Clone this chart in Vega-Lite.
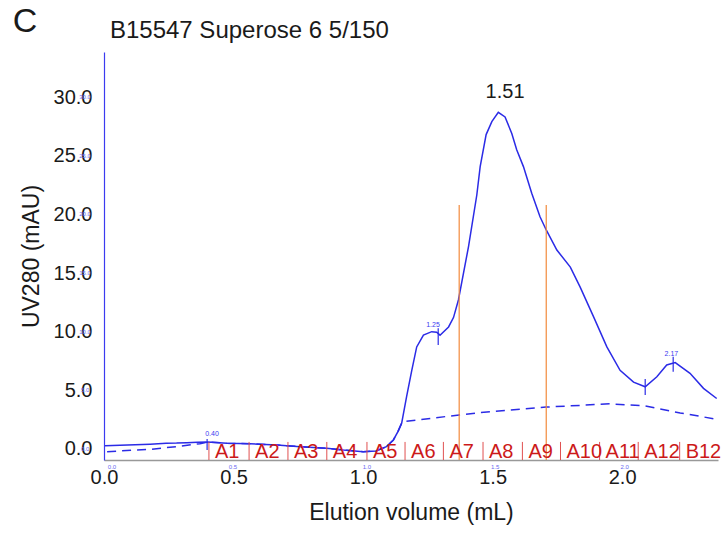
{
  "$schema": "https://vega.github.io/schema/vega-lite/v6.json",
  "width": 614,
  "height": 408,
  "autosize": {"type": "none"},
  "padding": {"left": 104, "top": 52, "right": 5, "bottom": 76},
  "background": "white",
  "config": {"view": {"stroke": null}, "font": "Liberation Sans"},
  "datasets": {
    "uv": [
      {"v": 0.004, "a": 0.28}, {"v": 0.062, "a": 0.31}, {"v": 0.12, "a": 0.35}, {"v": 0.178, "a": 0.4}, {"v": 0.24, "a": 0.48}, {"v": 0.28, "a": 0.5}, {"v": 0.32, "a": 0.54}, {"v": 0.36, "a": 0.57}, {"v": 0.40, "a": 0.6},
      {"v": 0.474, "a": 0.49}, {"v": 0.564, "a": 0.45}, {"v": 0.667, "a": 0.34}, {"v": 0.757, "a": 0.2}, {"v": 0.86, "a": 0.06}, {"v": 0.924, "a": -0.09}, {"v": 1.0, "a": -0.23}, {"v": 1.05, "a": -0.17}, {"v": 1.09, "a": 0.2}, {"v": 1.117, "a": 0.77}, {"v": 1.135, "a": 1.5},
      {"v": 1.149, "a": 2.2}, {"v": 1.168, "a": 4.46}, {"v": 1.188, "a": 6.7}, {"v": 1.207, "a": 8.7}, {"v": 1.233, "a": 9.7}, {"v": 1.265, "a": 10.0}, {"v": 1.284, "a": 9.95}, {"v": 1.297, "a": 9.7}, {"v": 1.33, "a": 10.4}, {"v": 1.349, "a": 11.2}, {"v": 1.368, "a": 12.7},
      {"v": 1.407, "a": 17.25}, {"v": 1.439, "a": 21.65}, {"v": 1.452, "a": 24.07}, {"v": 1.475, "a": 26.8}, {"v": 1.497, "a": 27.9}, {"v": 1.522, "a": 28.7}, {"v": 1.548, "a": 28.3}, {"v": 1.574, "a": 26.9}, {"v": 1.593, "a": 25.5}, {"v": 1.619, "a": 24.07}, {"v": 1.651, "a": 21.8}, {"v": 1.683, "a": 19.8}, {"v": 1.707, "a": 18.67}, {"v": 1.748, "a": 16.96}, {"v": 1.8, "a": 15.5}, {"v": 1.838, "a": 13.8}, {"v": 1.889, "a": 11.3}, {"v": 1.941, "a": 8.7}, {"v": 1.992, "a": 6.7}, {"v": 2.044, "a": 5.7}, {"v": 2.089, "a": 5.3}, {"v": 2.134, "a": 6.15}, {"v": 2.172, "a": 7.16}, {"v": 2.205, "a": 7.36}, {"v": 2.262, "a": 6.45}, {"v": 2.314, "a": 5.17}, {"v": 2.365, "a": 4.3}
    ],
    "base": [
      {"v": 0.012, "a": -0.23}, {"v": 0.062, "a": -0.17}, {"v": 0.178, "a": -0.03}, {"v": 0.28, "a": 0.2}, {"v": 0.37, "a": 0.45}, {"v": 0.40, "a": 0.6},
      {"v": 0.474, "a": 0.49}, {"v": 0.564, "a": 0.45}, {"v": 0.667, "a": 0.34}, {"v": 0.757, "a": 0.2}, {"v": 0.86, "a": 0.06}, {"v": 0.924, "a": -0.09}, {"v": 1.0, "a": -0.23}, {"v": 1.05, "a": -0.17}, {"v": 1.09, "a": 0.2}, {"v": 1.117, "a": 0.77}, {"v": 1.135, "a": 1.5}, {"v": 1.149, "a": 2.2},
      {"v": 1.154, "a": 2.33}, {"v": 1.371, "a": 2.9}, {"v": 1.452, "a": 3.1}, {"v": 1.707, "a": 3.57}, {"v": 1.954, "a": 3.85}, {"v": 2.089, "a": 3.67}, {"v": 2.224, "a": 3.07}, {"v": 2.367, "a": 2.53}
    ],
    "fractions": [
      {"v": 0.405, "f": "A1"}, {"v": 0.56, "f": "A2"}, {"v": 0.71, "f": "A3"}, {"v": 0.86, "f": "A4"}, {"v": 1.015, "f": "A5"}, {"v": 1.162, "f": "A6"}, {"v": 1.31, "f": "A7"}, {"v": 1.463, "f": "A8"}, {"v": 1.615, "f": "A9"}, {"v": 1.762, "f": "A10"}, {"v": 1.913, "f": "A11"}, {"v": 2.062, "f": "A12"}, {"v": 2.222, "f": "B12"}
    ],
    "cuts": [
      {"v": 1.371, "lo": -0.94, "hi": 20.8}, {"v": 1.707, "lo": -0.94, "hi": 20.8}
    ],
    "ticks": [
      {"v": 0.398, "lo": -0.09, "hi": 0.85}, {"v": 1.29, "lo": 8.87, "hi": 10.3}, {"v": 2.089, "lo": 4.6, "hi": 5.97}, {"v": 2.197, "lo": 6.59, "hi": 7.87}
    ],
    "small": [
      {"v": 0.417, "a": 1.0, "t": "0.40"}, {"v": 1.27, "a": 10.3, "t": "1.25"}, {"v": 2.19, "a": 7.8, "t": "2.17"}
    ],
    "tinyY": [
      {"a": 0, "t": "0.0"}, {"a": 5, "t": "5.0"}, {"a": 10, "t": "10.0"}, {"a": 15, "t": "15.0"}, {"a": 20, "t": "20.0"}, {"a": 25, "t": "25.0"}, {"a": 30, "t": "30.0"}
    ],
    "tinyX": [
      {"v": 0.031, "t": "0.0"}, {"v": 0.498, "t": "0.5"}, {"v": 1.015, "t": "1.0"}, {"v": 1.51, "t": "1.5"}, {"v": 2.01, "t": "2.0"}
    ],
    "texts": [
      {"v": 1.548, "a": 30.4, "t": "1.51"}
    ],
    "heading": [
      {"v": 0.023, "a": 35.04, "t": "B15547 Superose 6 5/150"}
    ],
    "panel": [
      {"v": -0.352, "a": 35.55, "t": "C"}
    ]
  },
  "layer": [
    {
      "data": {"name": "uv"},
      "mark": {"type": "line", "color": "#2b2be6", "strokeWidth": 1.5, "clip": true},
      "encoding": {
        "x": {"field": "v", "type": "quantitative", "scale": {"domain": [0, 2.37], "nice": false, "zero": false},
          "axis": {"values": [0, 0.5, 1, 1.5, 2], "format": ".1f", "labelFontSize": 20, "labelColor": "#1a1a1a", "labelFont": "Liberation Sans", "ticks": false, "labelPadding": 7, "domainColor": "#999999", "domainWidth": 1.5, "grid": false, "title": "Elution volume (mL)", "titleFontSize": 23, "titleFontWeight": "normal", "titleColor": "#1a1a1a", "titleFont": "Liberation Sans", "titlePadding": 14, "labelFlush": false}},
        "y": {"field": "a", "type": "quantitative", "scale": {"domain": [-0.94, 33.84], "nice": false, "zero": false},
          "axis": {"values": [0, 5, 10, 15, 20, 25, 30], "format": ".1f", "labelFontSize": 20, "labelColor": "#1a1a1a", "labelFont": "Liberation Sans", "ticks": false, "labelPadding": 12, "domainColor": "#3b3bf0", "domainWidth": 1.2, "grid": false, "title": "UV280 (mAU)", "titleFontSize": 23, "titleFontWeight": "normal", "titleColor": "#1a1a1a", "titleFont": "Liberation Sans", "titlePadding": 10, "labelFlush": false}}
      }
    },
    {
      "data": {"name": "base"},
      "mark": {"type": "line", "color": "#2b2be6", "strokeWidth": 1.5, "strokeDash": [9, 6], "clip": true},
      "encoding": {"x": {"field": "v", "type": "quantitative"}, "y": {"field": "a", "type": "quantitative"}}
    },
    {
      "data": {"name": "cuts"},
      "mark": {"type": "rule", "color": "#f28a3c", "strokeWidth": 1.2},
      "encoding": {"x": {"field": "v", "type": "quantitative"}, "y": {"field": "lo", "type": "quantitative"}, "y2": {"field": "hi"}}
    },
    {
      "data": {"name": "ticks"},
      "mark": {"type": "rule", "color": "#2b2be6", "strokeWidth": 1.2},
      "encoding": {"x": {"field": "v", "type": "quantitative"}, "y": {"field": "lo", "type": "quantitative"}, "y2": {"field": "hi"}}
    },
    {
      "data": {"name": "fractions"},
      "mark": {"type": "rule", "color": "#e05050", "strokeWidth": 1},
      "encoding": {"x": {"field": "v", "type": "quantitative"}, "y": {"datum": -0.94}, "y2": {"datum": 0.6}}
    },
    {
      "data": {"name": "fractions"},
      "mark": {"type": "text", "color": "#cc1a1a", "fontSize": 20, "font": "Liberation Sans", "align": "left", "baseline": "alphabetic", "dx": 6, "dy": -2},
      "encoding": {"x": {"field": "v", "type": "quantitative"}, "y": {"datum": -0.94}, "text": {"field": "f"}}
    },
    {
      "data": {"name": "small"},
      "mark": {"type": "text", "color": "#3b3bf0", "fontSize": 7, "font": "Liberation Sans", "align": "center", "baseline": "bottom"},
      "encoding": {"x": {"field": "v", "type": "quantitative"}, "y": {"field": "a", "type": "quantitative"}, "text": {"field": "t"}}
    },
    {
      "data": {"name": "tinyY"},
      "mark": {"type": "text", "color": "#6a6af2", "fontSize": 6, "font": "Liberation Sans", "align": "center", "baseline": "middle"},
      "encoding": {"x": {"datum": -0.073}, "y": {"field": "a", "type": "quantitative"}, "text": {"field": "t"}}
    },
    {
      "data": {"name": "tinyX"},
      "mark": {"type": "text", "color": "#6a6af2", "fontSize": 6, "font": "Liberation Sans", "align": "center", "baseline": "middle"},
      "encoding": {"x": {"field": "v", "type": "quantitative"}, "y": {"datum": -1.53}, "text": {"field": "t"}}
    },
    {
      "data": {"name": "texts"},
      "mark": {"type": "text", "color": "#1a1a1a", "fontSize": 20, "font": "Liberation Sans", "align": "center", "baseline": "middle"},
      "encoding": {"x": {"field": "v", "type": "quantitative"}, "y": {"field": "a", "type": "quantitative"}, "text": {"field": "t"}}
    },
    {
      "data": {"name": "heading"},
      "mark": {"type": "text", "color": "#1a1a1a", "fontSize": 24, "font": "Liberation Sans", "align": "left", "baseline": "alphabetic"},
      "encoding": {"x": {"field": "v", "type": "quantitative"}, "y": {"field": "a", "type": "quantitative"}, "text": {"field": "t"}}
    },
    {
      "data": {"name": "panel"},
      "mark": {"type": "text", "color": "#1a1a1a", "fontSize": 34, "font": "Liberation Sans", "align": "left", "baseline": "alphabetic"},
      "encoding": {"x": {"field": "v", "type": "quantitative"}, "y": {"field": "a", "type": "quantitative"}, "text": {"field": "t"}}
    }
  ]
}
